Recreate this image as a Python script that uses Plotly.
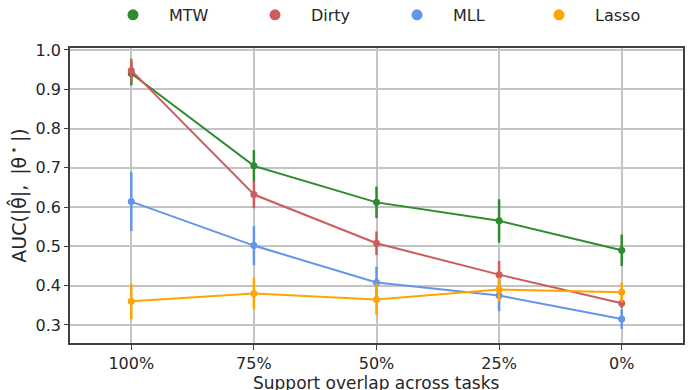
import plotly.graph_objects as go

categories = ["100%", "75%", "50%", "25%", "0%"]
series_names = ["MTW", "Dirty", "MLL", "Lasso"]
mtw = [0.940, 0.705, 0.612, 0.565, 0.490]
dirty = [0.948, 0.632, 0.508, 0.428, 0.355]
mll = [0.614, 0.502, 0.408, 0.375, 0.315]
lasso = [0.360, 0.380, 0.365, 0.390, 0.383]
mtw_err = [0.030, 0.040, 0.040, 0.055, 0.040]
dirty_err = [0.030, 0.035, 0.030, 0.035, 0.012]
mll_err = [0.075, 0.050, 0.040, 0.040, 0.025]
lasso_err = [0.045, 0.040, 0.040, 0.030, 0.025]
y_ticks = [0.3, 0.4, 0.5, 0.6, 0.7, 0.8, 0.9, 1.0]
x_title = "Support overlap across tasks"
y_title = "AUC(|θ̂|,\u2009 |θ<sup>\u2009⋆</sup>\u2009|)"
colors = ["#2e8b2e", "#cd5c5c", "#6495ed", "#ffa500"]

values = [mtw, dirty, mll, lasso]
errors = [mtw_err, dirty_err, mll_err, lasso_err]
legend_ids = ["legend", "legend2", "legend3", "legend4"]
legend_x = [0.044, 0.2757, 0.5074, 0.739]

fig = go.Figure()
for name, v, e, c in zip(series_names, values, errors, colors):
    fig.add_trace(go.Scatter(
        x=list(range(len(categories))), y=v, mode="lines+markers",
        line=dict(color=c, width=2), marker=dict(color=c, size=7),
        error_y=dict(type="data", array=e, visible=True, color=c, thickness=2.5, width=0),
        showlegend=False, name=name))
for name, c, lid in zip(series_names, colors, legend_ids):
    fig.add_trace(go.Scatter(x=[None], y=[None], mode="markers", legend=lid,
                             name=name, marker=dict(color=c, size=11)))

legend_layout = {}
for lid, lx in zip(legend_ids, legend_x):
    legend_layout[lid] = dict(x=lx, xanchor="left", y=1.112, yanchor="middle",
                              font=dict(size=16), bgcolor="rgba(0,0,0,0)",
                              borderwidth=0, itemwidth=62)

fig.update_layout(
    width=693, height=390,
    margin=dict(l=70, r=10, t=48, b=47, autoexpand=False),
    paper_bgcolor="white", plot_bgcolor="white",
    font=dict(family="DejaVu Sans", size=15, color="#262626"),
    xaxis=dict(range=[-0.5, 4.5], tickmode="array", tickvals=list(range(len(categories))),
               ticktext=categories, showgrid=True, gridcolor="#c4c4c4", gridwidth=1.5,
               showline=True, linecolor="#404040", linewidth=1.5, mirror=True,
               ticks="outside", ticklen=5, tickcolor="#404040", zeroline=False,
               tickfont=dict(size=16)),
    yaxis=dict(range=[0.254, 1.005], tickmode="array",
               tickvals=y_ticks, ticktext=[f"{t:.1f}" for t in y_ticks],
               showgrid=True, gridcolor="#c4c4c4", gridwidth=1.5,
               showline=True, linecolor="#404040", linewidth=1.5, mirror=True,
               ticks="outside", ticklen=4, tickcolor="#404040", zeroline=False,
               tickfont=dict(size=16),
               title=dict(text=y_title, font=dict(size=19), standoff=4)),
    annotations=[dict(text=x_title, xref="paper", yref="paper", x=0.5, y=-0.137,
                      xanchor="center", yanchor="middle", showarrow=False,
                      font=dict(size=17, color="#262626"))],
    **legend_layout,
)
fig.write_html("out.html")
